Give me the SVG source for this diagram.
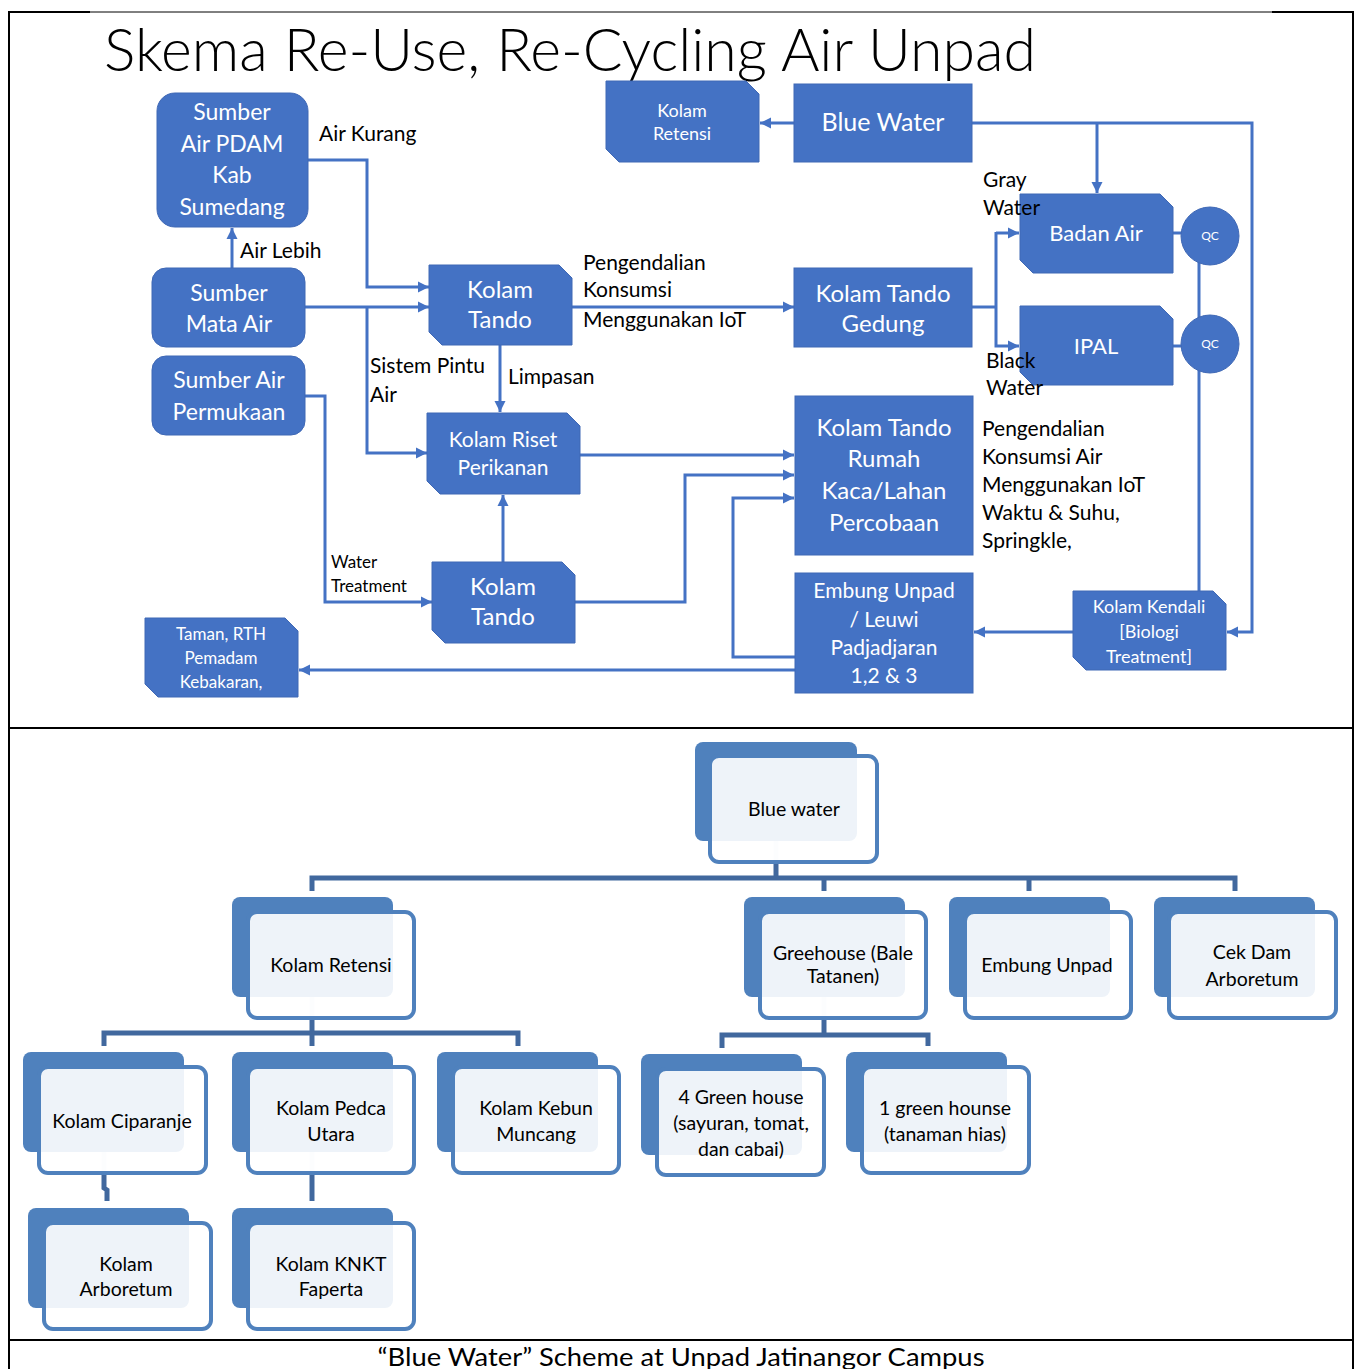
<svg xmlns="http://www.w3.org/2000/svg" width="1360" height="1369" viewBox="0 0 1360 1369">
<defs>
<marker id="ah" markerUnits="userSpaceOnUse" markerWidth="12" markerHeight="12" refX="11" refY="6" orient="auto">
<path d="M0,0.5 L11,6 L0,11.5 z" fill="#4472C4"/>
</marker>
<style>
.bx{fill:#4472C4;stroke:#3F68B5;stroke-width:1}
.wt{fill:#fff;font-family:Lato,"Open Sans",sans-serif;text-anchor:middle}
.lb{fill:#000;font-family:Lato,"Open Sans",sans-serif;font-size:21px}
.cn{fill:none;stroke:#4472C4;stroke-width:3}
.ca{fill:none;stroke:#4472C4;stroke-width:3;marker-end:url(#ah)}
.dk{fill:#4F81BD}
.fr{fill:#fff;fill-opacity:0.9;stroke:#4F81BD;stroke-width:4}
.ot{fill:#000;font-family:Lato,"Open Sans",sans-serif;font-size:19.5px;text-anchor:middle}
.oc{fill:none;stroke:#41689E;stroke-width:5}
.st{fill:none;stroke:#DDE5F1;stroke-width:5}
.fm{fill:none;stroke:#000;stroke-width:2}
</style>
</defs>
<rect width="1360" height="1369" fill="#fff"/>

<g id="frame">
<line class="fm" x1="9" y1="11" x2="9" y2="1369"/>
<line class="fm" x1="1353" y1="11" x2="1353" y2="1369"/>
<line class="fm" x1="8" y1="12" x2="90" y2="12"/>
<line x1="90" y1="12" x2="1272" y2="12" stroke="#000" stroke-width="1"/>
<line class="fm" x1="1272" y1="12" x2="1354" y2="12"/>
<line class="fm" x1="8" y1="728" x2="1354" y2="728"/>
<line class="fm" x1="8" y1="1340" x2="1354" y2="1340"/>
</g>

<text x="104" y="71" font-family="Lato,'Open Sans',sans-serif" font-weight="300" font-size="59" textLength="932" lengthAdjust="spacingAndGlyphs" fill="#000">Skema Re-Use, Re-Cycling Air Unpad</text>

<g id="connectors">
<polyline class="ca" points="308,160 367,160 367,287 429,287"/>
<polyline class="ca" points="305,307 429,307"/>
<polyline class="ca" points="367,307 367,453 427,453"/>
<polyline class="ca" points="232,268 232,228"/>
<polyline class="ca" points="305,396 325,396 325,602 432,602"/>
<polyline class="ca" points="572,307 794,307"/>
<polyline class="ca" points="500,345 500,412"/>
<polyline class="ca" points="503,562 503,495"/>
<polyline class="ca" points="580,455 794,455"/>
<polyline class="ca" points="575,602 685,602 685,475 794,475"/>
<polyline class="ca" points="795,657 733,657 733,498 794,498"/>
<polyline class="ca" points="795,670 299,670"/>
<polyline class="ca" points="794,123 760,123"/>
<polyline class="ca" points="972,123 1252,123 1252,632 1227,632"/>
<polyline class="ca" points="1097,123 1097,193"/>
<polyline class="cn" points="972,307 996,307"/>
<polyline class="ca" points="996,233 1019,233"/>
<polyline class="ca" points="996,232 996,346 1019,346"/>
<polyline class="cn" points="1173,233 1182,233"/>
<polyline class="cn" points="1173,346 1182,346"/>
<polyline class="cn" points="1199,262 1199,591"/>
<polyline class="ca" points="1073,632 974,632"/>
</g>

<g id="n-pdam"><rect class="bx" x="157" y="93" width="151" height="134" rx="18"/>
<text class="wt" font-size="23"><tspan x="232" y="120">Sumber</tspan><tspan x="232" y="152">Air PDAM</tspan><tspan x="232" y="183">Kab</tspan><tspan x="232" y="215">Sumedang</tspan></text></g>
<g id="n-mata"><rect class="bx" x="152" y="268" width="153" height="79" rx="14"/>
<text class="wt" font-size="23"><tspan x="229" y="301">Sumber</tspan><tspan x="229" y="332">Mata Air</tspan></text></g>
<g id="n-permukaan"><rect class="bx" x="152" y="356" width="153" height="79" rx="14"/>
<text class="wt" font-size="23"><tspan x="229" y="388">Sumber Air</tspan><tspan x="229" y="420">Permukaan</tspan></text></g>
<g id="n-tando1"><polygon class="bx" points="429,265 559,265 572,278 572,345 442,345 429,332"/>
<text class="wt" font-size="24"><tspan x="500" y="298">Kolam</tspan><tspan x="500" y="328">Tando</tspan></text></g>
<g id="n-retensi"><polygon class="bx" points="606,81 746,81 759,94 759,162 619,162 606,149"/>
<text class="wt" font-size="18"><tspan x="682" y="117">Kolam</tspan><tspan x="682" y="140">Retensi</tspan></text></g>
<g id="n-blue"><rect class="bx" x="794" y="84" width="178" height="78"/>
<text class="wt" font-size="25" x="883" y="131">Blue Water</text></g>
<g id="n-badan"><polygon class="bx" points="1020,194 1160,194 1173,207 1173,273 1033,273 1020,260"/>
<text class="wt" font-size="22" x="1096" y="241">Badan Air</text></g>
<g id="n-ipal"><polygon class="bx" points="1020,306 1160,306 1173,319 1173,385 1033,385 1020,372"/>
<text class="wt" font-size="22" x="1096" y="354">IPAL</text></g>
<g id="n-qc1"><circle class="bx" cx="1210" cy="236" r="29"/><text class="wt" font-size="12" x="1210" y="240">QC</text></g>
<g id="n-qc2"><circle class="bx" cx="1210" cy="344" r="29"/><text class="wt" font-size="12" x="1210" y="348">QC</text></g>
<g id="n-gedung"><rect class="bx" x="794" y="268" width="178" height="79"/>
<text class="wt" font-size="24"><tspan x="883" y="302">Kolam Tando</tspan><tspan x="883" y="332">Gedung</tspan></text></g>
<g id="n-rumah"><rect class="bx" x="795" y="396" width="178" height="159"/>
<text class="wt" font-size="24"><tspan x="884" y="436">Kolam Tando</tspan><tspan x="884" y="467">Rumah</tspan><tspan x="884" y="499">Kaca/Lahan</tspan><tspan x="884" y="531">Percobaan</tspan></text></g>
<g id="n-embung"><rect class="bx" x="795" y="573" width="178" height="120"/>
<text class="wt" font-size="21"><tspan x="884" y="598">Embung Unpad</tspan><tspan x="884" y="627">/ Leuwi</tspan><tspan x="884" y="655">Padjadjaran</tspan><tspan x="884" y="683">1,2 &amp; 3</tspan></text></g>
<g id="n-kendali"><polygon class="bx" points="1073,591 1213,591 1226,604 1226,670 1086,670 1073,657"/>
<text class="wt" font-size="18"><tspan x="1149" y="613">Kolam Kendali</tspan><tspan x="1149" y="638">[Biologi</tspan><tspan x="1149" y="663">Treatment]</tspan></text></g>
<g id="n-riset"><polygon class="bx" points="427,413 567,413 580,426 580,494 440,494 427,481"/>
<text class="wt" font-size="21"><tspan x="503" y="447">Kolam Riset</tspan><tspan x="503" y="475">Perikanan</tspan></text></g>
<g id="n-tando2"><polygon class="bx" points="432,562 562,562 575,575 575,643 445,643 432,630"/>
<text class="wt" font-size="24"><tspan x="503" y="595">Kolam</tspan><tspan x="503" y="625">Tando</tspan></text></g>
<g id="n-taman"><polygon class="bx" points="145,618 285,618 298,631 298,697 158,697 145,684"/>
<text class="wt" font-size="17"><tspan x="221" y="640">Taman, RTH</tspan><tspan x="221" y="664">Pemadam</tspan><tspan x="221" y="688">Kebakaran,</tspan></text></g>

<g id="labels">
<text class="lb" x="319" y="141">Air Kurang</text>
<text class="lb" x="240" y="258">Air Lebih</text>
<text class="lb"><tspan x="583" y="270">Pengendalian</tspan><tspan x="583" y="297">Konsumsi</tspan><tspan x="583" y="327">Menggunakan IoT</tspan></text>
<text class="lb"><tspan x="370" y="373">Sistem Pintu</tspan><tspan x="370" y="402">Air</tspan></text>
<text class="lb" x="508" y="384">Limpasan</text>
<text class="lb"><tspan x="983" y="187">Gray</tspan><tspan x="983" y="215">Water</tspan></text>
<text class="lb"><tspan x="986" y="368">Black</tspan><tspan x="986" y="395">Water</tspan></text>
<text class="lb"><tspan x="982" y="436">Pengendalian</tspan><tspan x="982" y="464">Konsumsi Air</tspan><tspan x="982" y="492">Menggunakan IoT</tspan><tspan x="982" y="520">Waktu &amp; Suhu,</tspan><tspan x="982" y="548">Springkle,</tspan></text>
<text class="lb" style="font-size:17px"><tspan x="331" y="568">Water</tspan><tspan x="331" y="592">Treatment</tspan></text>
</g>

<g id="org-connectors">
<line class="st" x1="776" y1="841" x2="776" y2="863"/>
<polyline class="oc" points="776,863 776,878"/>
<polyline class="oc" points="312,891 312,878 1235,878 1235,891"/>
<line class="oc" x1="824" y1="878" x2="824" y2="891"/>
<line class="oc" x1="1029" y1="878" x2="1029" y2="891"/>
<line class="st" x1="312" y1="997" x2="312" y2="1019"/>
<polyline class="oc" points="312,1019 312,1033"/>
<polyline class="oc" points="104,1046 104,1033 518,1033 518,1046"/>
<line class="oc" x1="312" y1="1033" x2="312" y2="1046"/>
<line class="st" x1="824" y1="997" x2="824" y2="1019"/>
<polyline class="oc" points="824,1019 824,1035"/>
<polyline class="oc" points="722,1048 722,1035 928,1035 928,1046"/>
<line class="st" x1="104" y1="1152" x2="104" y2="1174"/>
<polyline class="oc" points="104,1174 104,1188 107,1190 107,1201"/>
<line class="st" x1="312" y1="1152" x2="312" y2="1174"/>
<polyline class="oc" points="312,1174 312,1201"/>
</g>

<g id="o-blue"><rect class="dk" x="695" y="742" width="162" height="99" rx="8"/><rect class="fr" x="710" y="756" width="167" height="106" rx="9"/><text class="ot" x="794" y="816">Blue water</text></g>
<g id="o-retensi"><rect class="dk" x="232" y="897" width="161" height="100" rx="8"/><rect class="fr" x="248" y="912" width="166" height="106" rx="9"/><text class="ot" x="331" y="972">Kolam Retensi</text></g>
<g id="o-greenhouse"><rect class="dk" x="744" y="897" width="161" height="100" rx="8"/><rect class="fr" x="760" y="912" width="166" height="106" rx="9"/><text class="ot"><tspan x="843" y="960">Greehouse (Bale</tspan><tspan x="843" y="983">Tatanen)</tspan></text></g>
<g id="o-embung"><rect class="dk" x="949" y="897" width="161" height="100" rx="8"/><rect class="fr" x="965" y="912" width="166" height="106" rx="9"/><text class="ot" x="1047" y="972">Embung Unpad</text></g>
<g id="o-cekdam"><rect class="dk" x="1154" y="897" width="161" height="100" rx="8"/><rect class="fr" x="1169" y="912" width="167" height="106" rx="9"/><text class="ot"><tspan x="1252" y="959">Cek Dam</tspan><tspan x="1252" y="986">Arboretum</tspan></text></g>
<g id="o-ciparanje"><rect class="dk" x="23" y="1052" width="161" height="100" rx="8"/><rect class="fr" x="39" y="1067" width="167" height="106" rx="9"/><text class="ot" x="122" y="1128">Kolam Ciparanje</text></g>
<g id="o-pedca"><rect class="dk" x="232" y="1052" width="161" height="100" rx="8"/><rect class="fr" x="248" y="1067" width="166" height="106" rx="9"/><text class="ot"><tspan x="331" y="1115">Kolam Pedca</tspan><tspan x="331" y="1141">Utara</tspan></text></g>
<g id="o-kebun"><rect class="dk" x="437" y="1052" width="161" height="100" rx="8"/><rect class="fr" x="453" y="1067" width="166" height="106" rx="9"/><text class="ot"><tspan x="536" y="1115">Kolam Kebun</tspan><tspan x="536" y="1141">Muncang</tspan></text></g>
<g id="o-4green"><rect class="dk" x="641" y="1054" width="161" height="101" rx="8"/><rect class="fr" x="657" y="1069" width="167" height="106" rx="9"/><text class="ot"><tspan x="741" y="1104">4 Green house</tspan><tspan x="741" y="1130">(sayuran, tomat,</tspan><tspan x="741" y="1156">dan cabai)</tspan></text></g>
<g id="o-1green"><rect class="dk" x="846" y="1052" width="161" height="100" rx="8"/><rect class="fr" x="862" y="1067" width="167" height="106" rx="9"/><text class="ot"><tspan x="945" y="1115">1 green hounse</tspan><tspan x="945" y="1141">(tanaman hias)</tspan></text></g>
<g id="o-arboretum"><rect class="dk" x="28" y="1208" width="161" height="100" rx="8"/><rect class="fr" x="44" y="1223" width="167" height="106" rx="9"/><text class="ot"><tspan x="126" y="1271">Kolam</tspan><tspan x="126" y="1296">Arboretum</tspan></text></g>
<g id="o-knkt"><rect class="dk" x="232" y="1208" width="161" height="100" rx="8"/><rect class="fr" x="248" y="1223" width="166" height="106" rx="9"/><text class="ot"><tspan x="331" y="1271">Kolam KNKT</tspan><tspan x="331" y="1296">Faperta</tspan></text></g>

<text x="681" y="1366" text-anchor="middle" font-family="Lato,'Open Sans',sans-serif" font-size="25" textLength="607" lengthAdjust="spacingAndGlyphs" fill="#000">“Blue Water” Scheme at Unpad Jatinangor Campus</text>
</svg>
